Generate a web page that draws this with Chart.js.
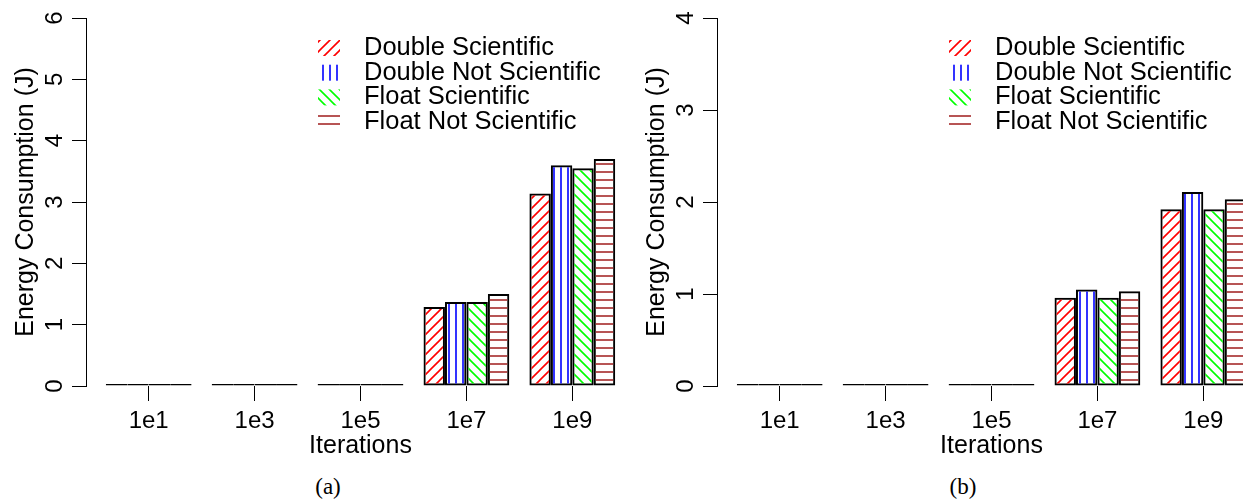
<!DOCTYPE html>
<html lang="en">
<head>
    <meta charset="UTF-8">
    <title>Energy Consumption</title>
    <script src="https://cdn.jsdelivr.net/npm/chart.js"></script>
    <style>
        body { margin: 0; width: 1243px; height: 502px; overflow: hidden; background: #fff; position: relative; }
        .panel { position: absolute; top: 0; }
        .caption { position: absolute; top: 474px; width: 60px; text-align: center; font-family: "Liberation Serif", "Times New Roman", serif; font-size: 23px; }
    </style>
</head>
<body>
    <div class="panel" style="left:0"><canvas id="chart-a" width="640" height="470"></canvas></div>
    <div class="panel" style="left:631px"><canvas id="chart-b" width="640" height="470"></canvas></div>
    <div class="caption" style="left:298px">(a)</div>
    <div class="caption" style="left:933px">(b)</div>

    <script>
        const iterations = ['1e1', '1e3', '1e5', '1e7', '1e9'];
        const seriesNames = ['Double Scientific', 'Double Not Scientific', 'Float Scientific', 'Float Not Scientific'];

        // panel (a)
        const doubleSciA = [0.003, 0.004, 0.02, 1.29, 3.14];
        const doubleNotSciA = [0.003, 0.004, 0.02, 1.37, 3.60];
        const floatSciA = [0.003, 0.004, 0.02, 1.37, 3.55];
        const floatNotSciA = [0.003, 0.004, 0.02, 1.50, 3.70];
        const yTicksA = [0, 1, 2, 3, 4, 5, 6];

        // panel (b)
        const doubleSciB = [0.002, 0.003, 0.012, 0.96, 1.92];
        const doubleNotSciB = [0.002, 0.003, 0.012, 1.05, 2.11];
        const floatSciB = [0.002, 0.003, 0.012, 0.96, 1.92];
        const floatNotSciB = [0.002, 0.003, 0.012, 1.03, 2.03];
        const yTicksB = [0, 1, 2, 3, 4];

        const FONT = '"Liberation Sans", Arial, Helvetica, sans-serif';
        Chart.defaults.font.family = FONT;
        Chart.defaults.font.size = 24;
        Chart.defaults.color = '#000';

        // hatch fills like R's density/angle
        function hatch(kind, color) {
            const size = (kind === 'slash' || kind === 'backslash') ? 10 : (kind === 'vertical' ? 7 : 8);
            const c = document.createElement('canvas');
            c.width = size;
            c.height = size;
            const g = c.getContext('2d');
            g.strokeStyle = color;
            g.lineWidth = 1.6;
            g.beginPath();
            if (kind === 'slash') {
                g.moveTo(-1, size + 1); g.lineTo(size + 1, -1);
                g.moveTo(-2, 2); g.lineTo(2, -2);
                g.moveTo(size - 2, size + 2); g.lineTo(size + 2, size - 2);
            } else if (kind === 'backslash') {
                g.moveTo(-1, -1); g.lineTo(size + 1, size + 1);
                g.moveTo(size - 2, -2); g.lineTo(size + 2, 2);
                g.moveTo(-2, size - 2); g.lineTo(2, size + 2);
            } else if (kind === 'vertical') {
                g.moveTo(1, 0); g.lineTo(1, size);
            } else {
                g.moveTo(0, 4); g.lineTo(size, 4);
            }
            g.stroke();
            return document.createElement('canvas').getContext('2d').createPattern(c, 'repeat');
        }

        const styles = [
            ['slash', '#ff0000'],
            ['vertical', '#0000ff'],
            ['backslash', '#00ff00'],
            ['horizontal', '#a52a2a']
        ];

        const hatchLegend = {
            id: 'hatchLegend',
            afterDraw(chart) {
                const ctx = chart.ctx;
                ctx.save();
                ctx.font = '25.5px ' + FONT;
                ctx.textBaseline = 'middle';
                chart.data.datasets.forEach((ds, i) => {
                    const y = 48 + i * 24.7;
                    ctx.fillStyle = ds.backgroundColor;
                    ctx.fillRect(318, y - 8, 22, 16);
                    ctx.fillStyle = '#000';
                    ctx.fillText(ds.label, 364, y);
                });
                ctx.restore();
            }
        };

        function makeChart(id, series, yTicks) {
            const ctx = document.getElementById(id).getContext('2d');
            const canvasHeight = 470;
            return new Chart(ctx, {
                type: 'bar',
                data: {
                    datasets: series.map((values, k) => ({
                        label: seriesNames[k],
                        data: values.map((v, i) => ({ x: i, y: v })),
                        backgroundColor: hatch(styles[k][0], styles[k][1]),
                        borderColor: '#000',
                        borderWidth: 2,
                        borderSkipped: false,
                        minBarLength: 2,
                        categoryPercentage: 0.81,
                        barPercentage: 1
                    }))
                },
                options: {
                    responsive: false,
                    animation: false,
                    layout: { autoPadding: false, padding: { top: 18, right: 5, left: 0, bottom: 0 } },
                    plugins: { legend: { display: false }, tooltip: { enabled: false } },
                    scales: {
                        x: {
                            type: 'linear',
                            offset: false,
                            min: -0.592,
                            max: iterations.length - 1 + 0.592,
                            afterBuildTicks: s => { s.ticks = iterations.map((_, i) => ({ value: i })); },
                            afterFit: s => { s.height = canvasHeight - 386; s.paddingLeft = 0; s.paddingRight = 0; },
                            ticks: {
                                callback: v => iterations[v],
                                maxRotation: 0,
                                minRotation: 0,
                                padding: 6
                            },
                            grid: { offset: false, drawOnChartArea: false, drawTicks: true, tickLength: 15, color: '#000', lineWidth: 1 },
                            border: { display: false },
                            title: { display: true, text: 'Iterations', font: { size: 25 }, padding: { top: 0, bottom: 9 } }
                        },
                        y: {
                            min: yTicks[0],
                            max: yTicks[yTicks.length - 1],
                            afterBuildTicks: s => { s.ticks = yTicks.map(v => ({ value: v })); },
                            afterFit: s => { s.width = 86; s.paddingTop = 0; s.paddingBottom = 0; },
                            ticks: { minRotation: 90, maxRotation: 90, crossAlign: 'center', padding: 10 },
                            grid: { drawOnChartArea: false, drawTicks: true, tickLength: 14, color: '#000', lineWidth: 1 },
                            border: { display: true, color: '#000', width: 1 },
                            title: { display: true, text: 'Energy Consumption (J)', font: { size: 25 }, padding: { top: 11, bottom: 0 } }
                        }
                    }
                },
                plugins: [hatchLegend]
            });
        }

        makeChart('chart-a', [doubleSciA, doubleNotSciA, floatSciA, floatNotSciA], yTicksA);
        makeChart('chart-b', [doubleSciB, doubleNotSciB, floatSciB, floatNotSciB], yTicksB);
    </script>
</body>
</html>
